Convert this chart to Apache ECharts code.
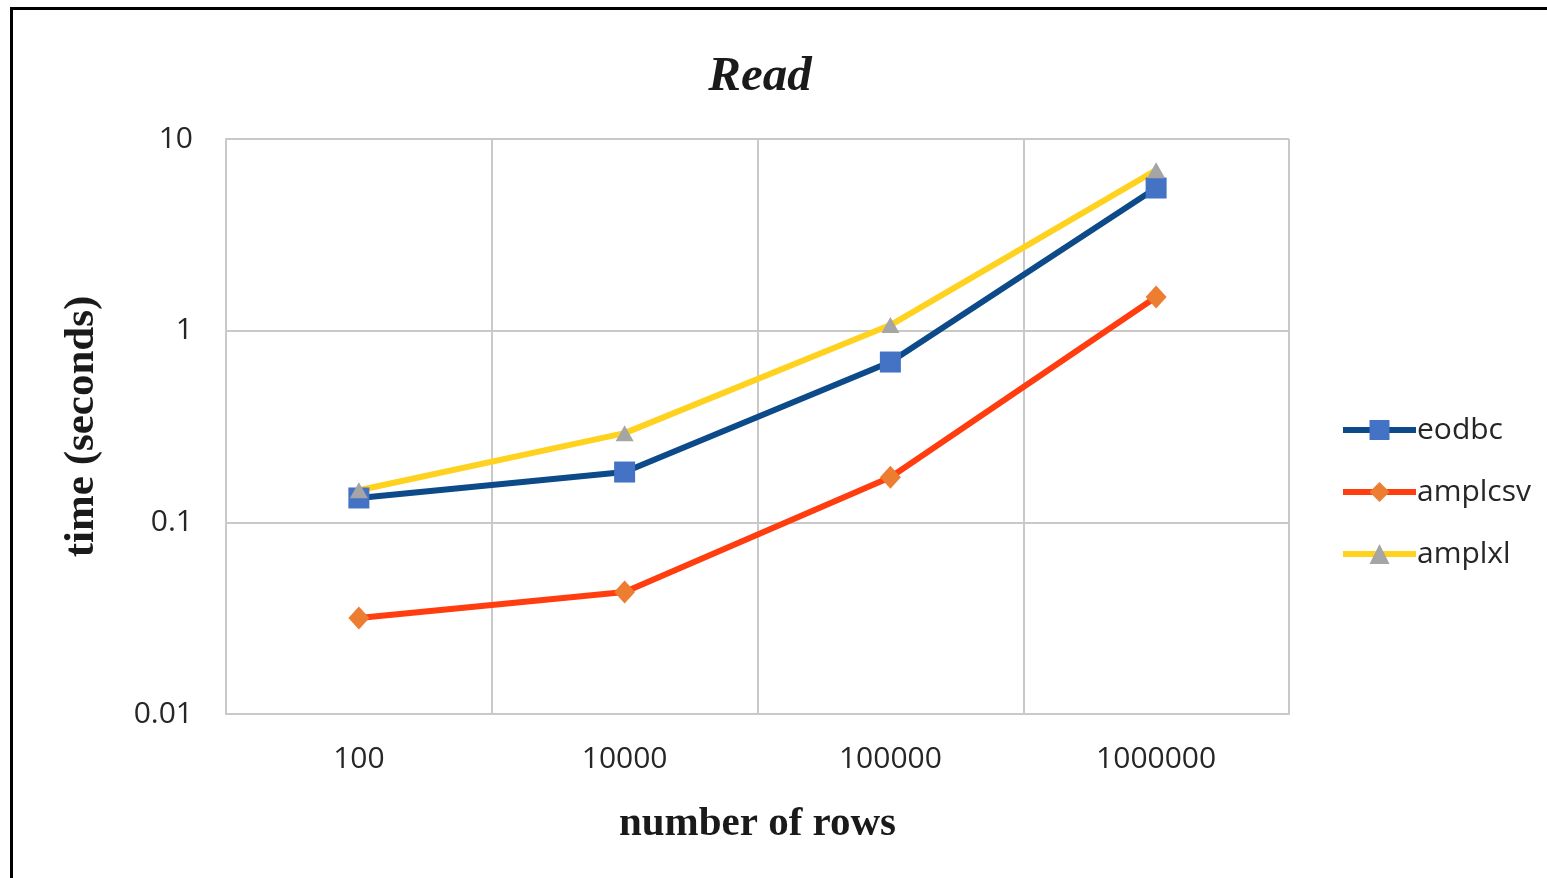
<!DOCTYPE html>
<html>
<head>
<meta charset="utf-8">
<title>Read</title>
<script src="https://cdn.jsdelivr.net/npm/echarts@6/dist/echarts.min.js"></script>
<style>
  html, body { margin: 0; padding: 0; background: #fff; }
  #chart { width: 1547px; height: 878px; }
</style>
</head>
<body>
<div id="chart"></div>
<script>
// Row counts on the x axis
const rowCounts = ['100', '10000', '100000', '1000000'];
// Read time in seconds for each method
const eodbc   = [0.134, 0.183, 0.686, 5.55];
const amplcsv = [0.0317, 0.0433, 0.172, 1.50];
const amplxl  = [0.147, 0.292, 1.07, 6.88];
// Log-axis tick labels
const yTickLabels = { 0.01: '0.01', 0.1: '0.1', 1: '1', 10: '10' };

const labelFont = '"Open Sans", sans-serif';
const serifFont = '"Liberation Serif", "DejaVu Serif", serif';
const gridColor = '#c9c9c9';

const chart = echarts.init(document.getElementById('chart'), null, { renderer: 'canvas' });

chart.setOption({
  animation: false,
  backgroundColor: '#ffffff',
  title: {
    text: 'Read',
    left: 755,
    textAlign: 'center',
    top: 48,
    textStyle: {
      fontFamily: serifFont,
      fontStyle: 'italic',
      fontWeight: 'bold',
      fontSize: 49,
      color: '#1a1a1a'
    }
  },
  graphic: [{
    type: 'rect',
    shape: { x: 11.5, y: 8.5, width: 2000, height: 2000 },
    style: { fill: 'none', stroke: '#000', lineWidth: 3 },
    silent: true
  }],
  legend: {
    orient: 'vertical',
    left: 1335,
    top: 410,
    itemWidth: 73,
    itemHeight: 25,
    itemGap: 32,
    lineStyle: { width: 6 },
    textStyle: { fontFamily: labelFont, fontSize: 30, color: '#262626', padding: [0, 0, 0, -4] },
    data: ['eodbc', 'amplcsv', 'amplxl']
  },
  grid: { left: 226, right: 258, top: 139, bottom: 164 },
  xAxis: {
    type: 'category',
    data: rowCounts,
    boundaryGap: true,
    name: 'number of rows',
    nameLocation: 'middle',
    nameGap: 90,
    nameTextStyle: { fontFamily: serifFont, fontWeight: 'bold', fontSize: 41, color: '#1a1a1a' },
    axisLine: { show: true, lineStyle: { color: gridColor, width: 2 } },
    axisTick: { show: false },
    axisLabel: { fontFamily: labelFont, fontSize: 30, color: '#262626', margin: 30 },
    splitLine: { show: true, lineStyle: { color: gridColor, width: 2 } }
  },
  yAxis: {
    type: 'log',
    logBase: 10,
    min: 0.01,
    max: 10,
    name: 'time (seconds)',
    nameLocation: 'middle',
    nameRotate: 90,
    nameGap: 123,
    nameTextStyle: { fontFamily: serifFont, fontWeight: 'bold', fontSize: 43, color: '#1a1a1a' },
    axisLine: { show: true, lineStyle: { color: gridColor, width: 2 } },
    axisTick: { show: false },
    axisLabel: {
      fontFamily: labelFont, fontSize: 30, color: '#262626', margin: 33,
      formatter: v => yTickLabels[v] !== undefined ? yTickLabels[v] : String(v)
    },
    splitLine: { show: true, lineStyle: { color: gridColor, width: 2 } }
  },
  series: [
    {
      name: 'eodbc',
      type: 'line',
      data: eodbc,
      symbol: 'rect',
      symbolSize: 21,
      lineStyle: { color: '#0d4a8a', width: 6 },
      itemStyle: { color: '#4472c4' }
    },
    {
      name: 'amplcsv',
      type: 'line',
      data: amplcsv,
      symbol: 'diamond',
      symbolSize: [21, 23],
      lineStyle: { color: '#ff3d0f', width: 6 },
      itemStyle: { color: '#ed7d31' }
    },
    {
      name: 'amplxl',
      type: 'line',
      data: amplxl,
      symbol: 'triangle',
      symbolSize: [18, 16],
      lineStyle: { color: '#ffd21f', width: 6 },
      itemStyle: { color: '#a5a5a5' }
    }
  ]
});
</script>
</body>
</html>
